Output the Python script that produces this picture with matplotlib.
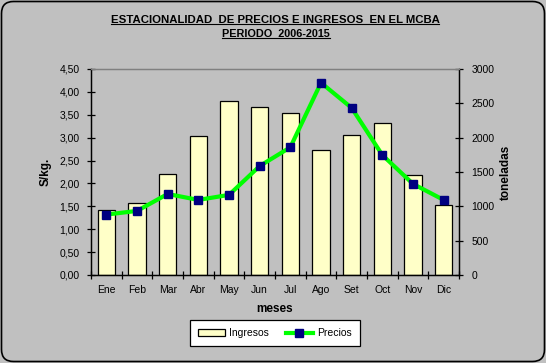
import matplotlib.pyplot as plt
import numpy as np
from matplotlib.lines import Line2D
from matplotlib.patches import FancyBboxPatch, Patch
from matplotlib.transforms import IdentityTransform

plt.rcParams["font.family"] = ["Liberation Sans", "DejaVu Sans"]
plt.rcParams["font.size"] = 7.5

months = ["Ene", "Feb", "Mar", "Abr", "May", "Jun", "Jul", "Ago", "Set", "Oct", "Nov", "Dic"]
ingresos = [942, 1048, 1466, 2019, 2538, 2441, 2354, 1815, 2034, 2209, 1452, 1015]
precios = [1.32, 1.40, 1.77, 1.64, 1.75, 2.38, 2.79, 4.20, 3.65, 2.62, 1.99, 1.64]
price_ticks = [0, 0.5, 1.0, 1.5, 2.0, 2.5, 3.0, 3.5, 4.0, 4.5]
ton_ticks = [0, 500, 1000, 1500, 2000, 2500, 3000]

BG = "#C0C0C0"
BAR_COLOR = "#FFFFC8"
LINE_COLOR = "#00FF00"
MARKER_COLOR = "#000080"

fig = plt.figure(figsize=(5.46, 3.63), dpi=100)
fig.patch.set_facecolor(BG)

ax = fig.add_axes([91 / 546, 88 / 363, 368 / 546, 206 / 363])
ax2 = ax.twinx()

x = np.arange(len(months))

# bars on the secondary axis, line on the primary drawn above
ax2.bar(x, ingresos, width=0.57, color=BAR_COLOR, edgecolor="black", linewidth=0.9)
ax2.set_ylim(0, 3000)
ax2.set_yticks(ton_ticks)
ax2.set_yticklabels([str(t) for t in ton_ticks])
ax2.set_facecolor(BG)

ax.plot(x, precios, color=LINE_COLOR, linewidth=3, marker="s", markersize=5.5,
        markerfacecolor=MARKER_COLOR, markeredgecolor=MARKER_COLOR, zorder=3)
ax.set_zorder(ax2.get_zorder() + 1)
ax.patch.set_visible(False)

ax.set_xlim(-0.5, len(months) - 0.5)
ax.set_ylim(0, 4.5)
ax.set_yticks(price_ticks)
ax.set_yticklabels([f"{t:.2f}".replace(".", ",") for t in price_ticks])
ax.set_xticks(x)
ax.set_xticklabels(months)
ax.set_xticks(np.arange(-0.5, len(months)), minor=True)
ax.tick_params(axis="x", which="major", length=0, pad=7)
ax.tick_params(axis="x", which="minor", direction="inout", length=6, width=0.9)
ax.tick_params(axis="y", direction="inout", length=6, width=0.9, pad=5)
ax2.tick_params(axis="y", direction="inout", length=6, width=0.9, pad=6)

for a in (ax, ax2):
    a.spines["top"].set_color("#808080")
    a.spines["top"].set_linewidth(0.9)
    for s in ("left", "right", "bottom"):
        a.spines[s].set_linewidth(0.9)

ax.set_ylabel("S/kg.", fontweight="bold", fontsize=8.5, labelpad=6)
ax2.set_ylabel("toneladas", fontweight="bold", fontsize=8.5, labelpad=4)
ax.set_xlabel("meses", fontweight="bold", fontsize=8.5, labelpad=6)

t1 = fig.text(275 / 546, 1 - 20 / 363, "ESTACIONALIDAD  DE PRECIOS E INGRESOS  EN EL MCBA",
              ha="center", va="center", fontweight="bold", fontsize=8.2)
t2 = fig.text(276 / 546, 1 - 34 / 363, "PERIODO  2006-2015",
              ha="center", va="center", fontweight="bold", fontsize=7.8)

handles = [
    Patch(facecolor=BAR_COLOR, edgecolor="black", linewidth=0.9, label="Ingresos"),
    Line2D([], [], color=LINE_COLOR, linewidth=3, marker="s", markersize=5.5,
           markerfacecolor=MARKER_COLOR, markeredgecolor=MARKER_COLOR, label="Precios"),
]
leg = fig.legend(handles=handles, loc="center", bbox_to_anchor=(275 / 546, 1 - 333 / 363),
                 ncol=2, frameon=True, fancybox=False, edgecolor="black",
                 facecolor="white", framealpha=1, fontsize=7.5,
                 handlelength=2.6, handleheight=0.6, columnspacing=1.6,
                 borderpad=0.75, borderaxespad=0, handletextpad=0.4)
leg.get_frame().set_linewidth(0.9)

# underline the titles
fig.canvas.draw()
renderer = fig.canvas.get_renderer()
for t in (t1, t2):
    bb = t.get_window_extent(renderer).transformed(fig.transFigure.inverted())
    fig.add_artist(Line2D([bb.x0, bb.x1], [bb.y0 + 0.002, bb.y0 + 0.002],
                          transform=fig.transFigure, color="black", linewidth=0.8))

border = FancyBboxPatch((1.5, 1.5), 543, 360, boxstyle="round,pad=0,rounding_size=12",
                        transform=IdentityTransform(), facecolor="none",
                        edgecolor="black", linewidth=1.2)
fig.patches.append(border)

fig.savefig("out.png", dpi=100, facecolor=BG)
plt.close(fig)
